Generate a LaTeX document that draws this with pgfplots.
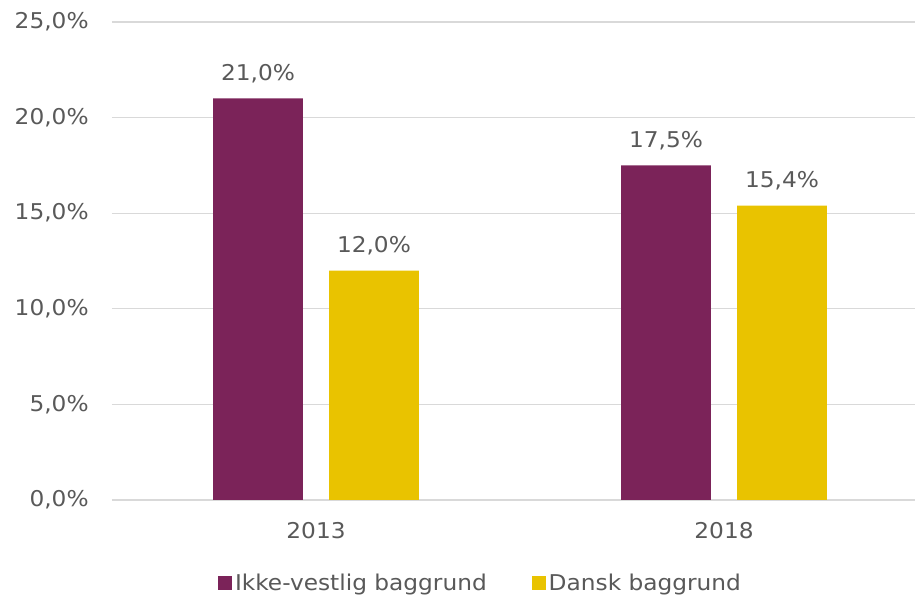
\documentclass[border=0pt]{standalone}
\usepackage{pgfplots}
\pgfplotsset{compat=1.18}
\usepackage{fontspec}
\setmainfont[FakeStretch=1.07]{DejaVu Sans}
\definecolor{cpurple}{HTML}{7B2359}
\definecolor{cyellow}{HTML}{E9C300}
\definecolor{ctext}{HTML}{595959}
\definecolor{cgrid}{HTML}{D9D9D9}
\begin{document}
\begin{tikzpicture}
\begin{axis}[
  scale only axis,
  width=602.25pt, height=358.5pt,
  xmin=-0.5, xmax=1.468,
  ymin=0, ymax=25,
  ytick={0,5,10,15,20,25},
  xtick={0,1}, xticklabels={2013,2018},
  axis line style={draw=none},
  tick style={draw=none},
  ymajorgrids, major grid style={cgrid, line width=1pt},
  font=\fontsize{16.3pt}{19pt}\selectfont,
  every tick label/.append style={text=ctext},
  /pgf/number format/assume math mode=true,
  yticklabel={\pgfmathprintnumber[fixed,fixed zerofill,precision=1,use comma]{\tick}\%},
  yticklabel style={xshift=-14pt},
  xticklabel style={yshift=-9pt},
  ybar, bar width=0.22,
  nodes near coords={\pgfmathprintnumber[fixed,fixed zerofill,precision=1,use comma]{\pgfplotspointmeta}\%},
  nodes near coords style={text=ctext, font=\fontsize{16.3pt}{19pt}\selectfont, yshift=8pt},
  legend columns=2,
  legend style={draw=none, at={(0.4595,-0.1736)}, anchor=center, text=ctext, font=\fontsize{16.3pt}{19pt}\selectfont, /tikz/every even column/.append style={column sep=32pt}},
  legend image code/.code={\fill[#1] (-1.5pt,-5pt) rectangle (9pt,5.5pt);},
]
\addplot[fill=cpurple, draw=none, bar shift=-0.142] coordinates {(0,21.0) (1,17.5)};
\addplot[fill=cyellow, draw=none, bar shift=0.142] coordinates {(0,12.0) (1,15.4)};
\legend{Ikke-vestlig baggrund, Dansk baggrund}
\end{axis}
\pgfresetboundingbox
\path[use as bounding box] ([xshift=-84pt,yshift=-72.75pt]current axis.south west) rectangle ([yshift=16.5pt]current axis.north east);
\end{tikzpicture}
\end{document}
